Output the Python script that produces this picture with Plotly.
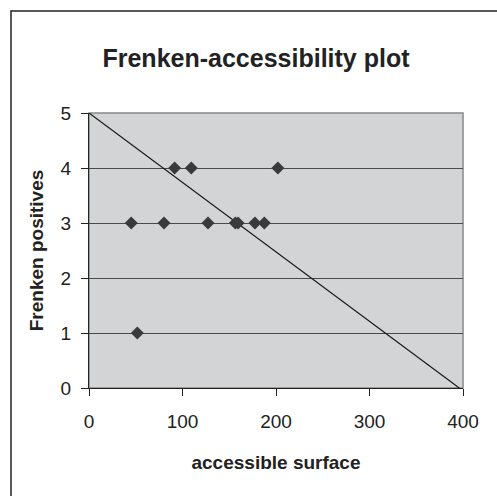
import plotly.graph_objects as go

surface = [91.6, 109.4, 202, 45.2, 80.2, 127.3, 156.5, 159.4, 177.5, 187.5, 51.7]
positives = [4, 4, 4, 3, 3, 3, 3, 3, 3, 3, 1]
line_x = [0, 396]
line_y = [5, 0]
x_ticks = [0, 100, 200, 300, 400]
y_ticks = [0, 1, 2, 3, 4, 5]

W, H = 497, 496
L, R, T, B = 89, 463, 113, 388

fig = go.Figure()
fig.add_trace(go.Scatter(x=line_x, y=line_y, mode="lines",
                         line=dict(color="#1a1a1a", width=1.2), hoverinfo="skip"))
fig.add_trace(go.Scatter(x=surface, y=positives, mode="markers",
                         marker=dict(symbol="diamond", size=10, color="#3a3a3a")))

font = "Liberation Sans, Arial, sans-serif"
fig.update_layout(
    width=W, height=H,
    margin=dict(l=L, r=W - R, t=T, b=H - B, pad=0),
    paper_bgcolor="white", plot_bgcolor="#d3d4d6",
    showlegend=False,
    font=dict(family=font, color="#222", size=16),
    title=dict(text="<b>Frenken-accessibility plot</b>", x=256 / W, xanchor="center",
               y=1 - 58 / H, yanchor="middle", font=dict(size=25, color="#222")),
    xaxis=dict(range=[0, 400], tickvals=x_ticks, showgrid=False, zeroline=False,
               showline=True, linecolor="#222", linewidth=1.2,
               ticks="outside", ticklen=7, tickcolor="#222", ticklabelstandoff=9,
               title=dict(text="<b>accessible surface</b>", font=dict(size=19), standoff=24),
               tickfont=dict(size=19)),
    yaxis=dict(range=[0, 5], tickvals=y_ticks, showgrid=True, gridcolor="#4a4a4a", gridwidth=1.2,
               zeroline=False, showline=True, linecolor="#222", linewidth=1.2,
               ticks="outside", ticklen=7, tickcolor="#222", ticklabelstandoff=6,
               title=dict(text="<b>Frenken positives</b>", font=dict(size=19), standoff=11),
               tickfont=dict(size=19)),
    shapes=[
        dict(type="rect", xref="paper", yref="paper", x0=0, x1=1, y0=0, y1=1,
             line=dict(color="#888", width=1.5), layer="below"),
        dict(type="rect", xref="paper", yref="paper",
             x0=(11 - L) / (R - L), x1=(W + 5 - L) / (R - L),
             y0=(B - (H + 5)) / (B - T), y1=(B - 11) / (B - T),
             line=dict(color="#222", width=1.5)),
    ],
)
fig.write_html("out.html")
